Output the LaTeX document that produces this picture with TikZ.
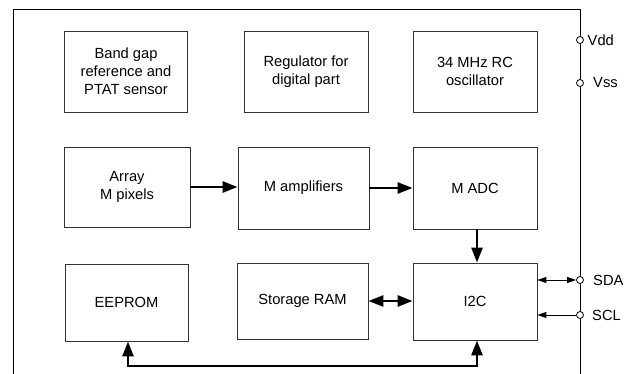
\documentclass[tikz,border=0pt]{standalone}
\usepackage{fontspec}
\setmainfont{Liberation Sans}
\usetikzlibrary{arrows.meta}
\begin{document}
\begin{tikzpicture}[x=1pt,y=-1pt,
  blk/.style={draw=black!80,line width=0.8pt,align=center,inner sep=0pt,font=\fontsize{14.7}{17.8}\selectfont},
  big/.style={line width=2.7pt,-{Triangle[length=15pt,width=11pt]}},
  bigboth/.style={line width=2.7pt,{Triangle[length=15pt,width=11pt]}-{Triangle[length=15pt,width=11pt]}},
  thin/.style={line width=0.9pt},
  pinc/.style={circle,draw=black,line width=0.8pt,fill=white,minimum size=7pt,inner sep=0pt},
  lbl/.style={anchor=west,inner sep=0pt,font=\fontsize{14.7}{17}\selectfont}]
\useasboundingbox[fill=white] (0,0) rectangle (635,374);
% frame
\coordinate (fbl) at (13,374);
\coordinate (ftl) at (13,9);
\coordinate (ftr) at (580,9);
\coordinate (fbr) at (580,374);
\draw[line width=0.9pt] (fbl) -- (ftl) -- (ftr) -- (fbr);
% top row
\node[blk,minimum width=123pt,minimum height=81pt] (bg) at (126,71.5) {Band gap\\reference and\\PTAT sensor};
\node[blk,minimum width=124pt,minimum height=81pt] (reg) at (306,71.5) {Regulator for\\digital part};
\node[blk,minimum width=124pt,minimum height=81pt] (osc) at (475,71.5) {34 MHz RC\\oscillator};
% middle row
\node[blk,minimum width=126pt,minimum height=80pt] (arr) at (127,187) {Array\\M pixels};
\node[blk,minimum width=131pt,minimum height=82pt] (amp) at (303.5,188) {M amplifiers};
\node[blk,minimum width=124pt,minimum height=82pt] (adc) at (475,188) {M ADC};
% bottom row
\node[blk,minimum width=123pt,minimum height=77pt] (eep) at (126.5,302.5) {EEPROM};
\node[blk,minimum width=131pt,minimum height=76pt] (ram) at (302.5,301) {Storage RAM};
\node[blk,minimum width=124pt,minimum height=77pt] (i2c) at (475,301.5) {I2C};
% pins
\node[pinc] (vdd) at (580,40) {};
\node[pinc] (vss) at (580,83) {};
\node[pinc] (sda) at (580,280) {};
\node[pinc] (scl) at (580,315) {};
\node[lbl] (vddl) at (587.5,40) {Vdd};
\node[lbl] (vssl) at (593,83) {Vss};
\node[lbl] (sdal) at (593,280) {SDA};
\node[lbl] (scll) at (592,315) {SCL};
% arrows
\draw[big] (arr.east |- 0,187) -- (amp.west |- 0,187);
\draw[big] (amp.east) -- (adc.west |- amp.east);
\draw[big] (adc.south -| 477,0) -- (i2c.north -| 477,0);
\draw[bigboth] (ram.east) -- (i2c.west |- ram.east);
\coordinate (bl) at (128,366);
\coordinate (br) at (477,366);
\draw[bigboth] (eep.south -| bl) -- (bl) -- (br) -- (i2c.south -| br);
\draw[thin,{Triangle[length=9pt,width=6pt]}-{Triangle[length=9pt,width=6pt]}] (i2c.east |- sda) -- (sda.west);
\draw[thin,-{Triangle[length=9pt,width=6pt]}] (scl.west) -- (i2c.east |- scl);
\end{tikzpicture}
\end{document}
